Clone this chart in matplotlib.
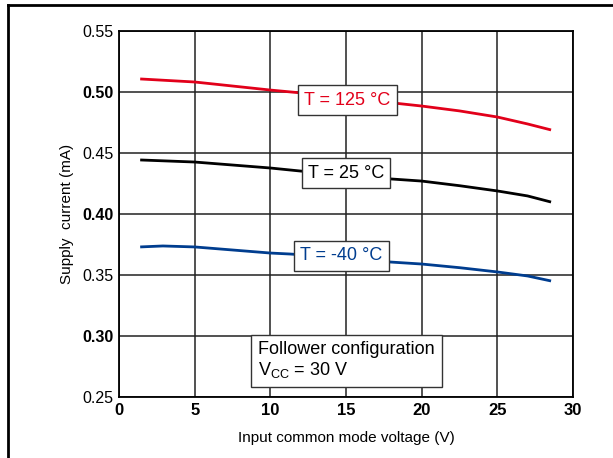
import matplotlib
matplotlib.use("Agg")
import matplotlib.pyplot as plt
from matplotlib.lines import Line2D

plt.rcParams['font.family'] = ['Liberation Sans', 'DejaVu Sans']

v_red = [1.4, 5, 10, 11.8, 15, 18.5, 20, 22.5, 25, 27, 28.55]
i_red = [0.5107, 0.5082, 0.5016, 0.4995, 0.4955, 0.4905, 0.4885, 0.4845, 0.4795, 0.4738, 0.4689]
v_blk = [1.4, 5, 10, 12, 15, 18, 20, 22.5, 25, 27, 28.55]
i_blk = [0.4443, 0.4426, 0.4377, 0.4352, 0.4322, 0.4287, 0.4270, 0.4232, 0.4189, 0.4148, 0.4098]
v_blu = [1.4, 2.9, 5, 10, 11.3, 15, 17.85, 20, 22.5, 25, 27, 28.55]
i_blu = [0.3730, 0.3738, 0.3730, 0.3680, 0.3672, 0.3640, 0.3607, 0.3590, 0.3560, 0.3525, 0.3492, 0.3451]

xticks = [0, 5, 10, 15, 20, 25, 30]
yticks = [0.25, 0.30, 0.35, 0.40, 0.45, 0.50, 0.55]
ylabels = ['0.25', '0.30', '0.35', '0.40', '0.45', '0.50', '0.55']

fig = plt.figure(figsize=(6.13, 4.58), dpi=100)
ax = fig.add_axes([119/613, 1-397/458, (573-119)/613, (397-31)/458])

ax.plot(v_red, i_red, color='#e2001a', lw=2, solid_capstyle='butt')
ax.plot(v_blk, i_blk, color='black', lw=2, solid_capstyle='butt')
ax.plot(v_blu, i_blu, color='#003d8f', lw=2, solid_capstyle='butt')

ax.set_xlim(0, 30)
ax.set_ylim(0.25, 0.55)
ax.set_xticks(xticks)
ax.set_xticklabels([str(x) for x in xticks], fontsize=12, fontweight='bold')
ax.set_yticks(yticks)
ax.set_yticklabels(ylabels, fontsize=11.5)
for lab, y in zip(ax.get_yticklabels(), yticks):
    if round(y * 100) % 10 == 0:
        lab.set_fontweight('bold')
ax.tick_params(length=0, pad=4)
ax.grid(True, color='#222222', lw=1.1)
for s in ax.spines.values():
    s.set_linewidth(1.3)
ax.set_xlabel('Input common mode voltage (V)', fontsize=11, labelpad=10)
ax.set_ylabel('Supply  current (mA)', fontsize=11, labelpad=6)

box = dict(boxstyle='square,pad=0.35', fc='white', ec='#333333', lw=1)
ax.text(15.1, 0.4934, 'T = 125 °C', color='#e2001a', fontsize=13, ha='center', va='center', bbox=box)
ax.text(15.0, 0.4336, 'T = 25 °C', color='black', fontsize=13, ha='center', va='center', bbox=box)
ax.text(14.7, 0.3656, 'T = -40 °C', color='#003d8f', fontsize=13, ha='center', va='center', bbox=box)

ax.text(9.2, 0.2800, 'Follower configuration\nV$_{\\mathregular{CC}}$ = 30 V', fontsize=13,
        ha='left', va='center', linespacing=1.15,
        bbox=dict(boxstyle='square,pad=0.4', fc='white', ec='#333333', lw=1))

fig.add_artist(Line2D([7.5/613, 7.5/613], [0, 1-5/458], color='black', lw=2, transform=fig.transFigure))
fig.add_artist(Line2D([7.5/613, 1], [1-5/458, 1-5/458], color='black', lw=2, transform=fig.transFigure))

fig.savefig('out.png', dpi=100)
